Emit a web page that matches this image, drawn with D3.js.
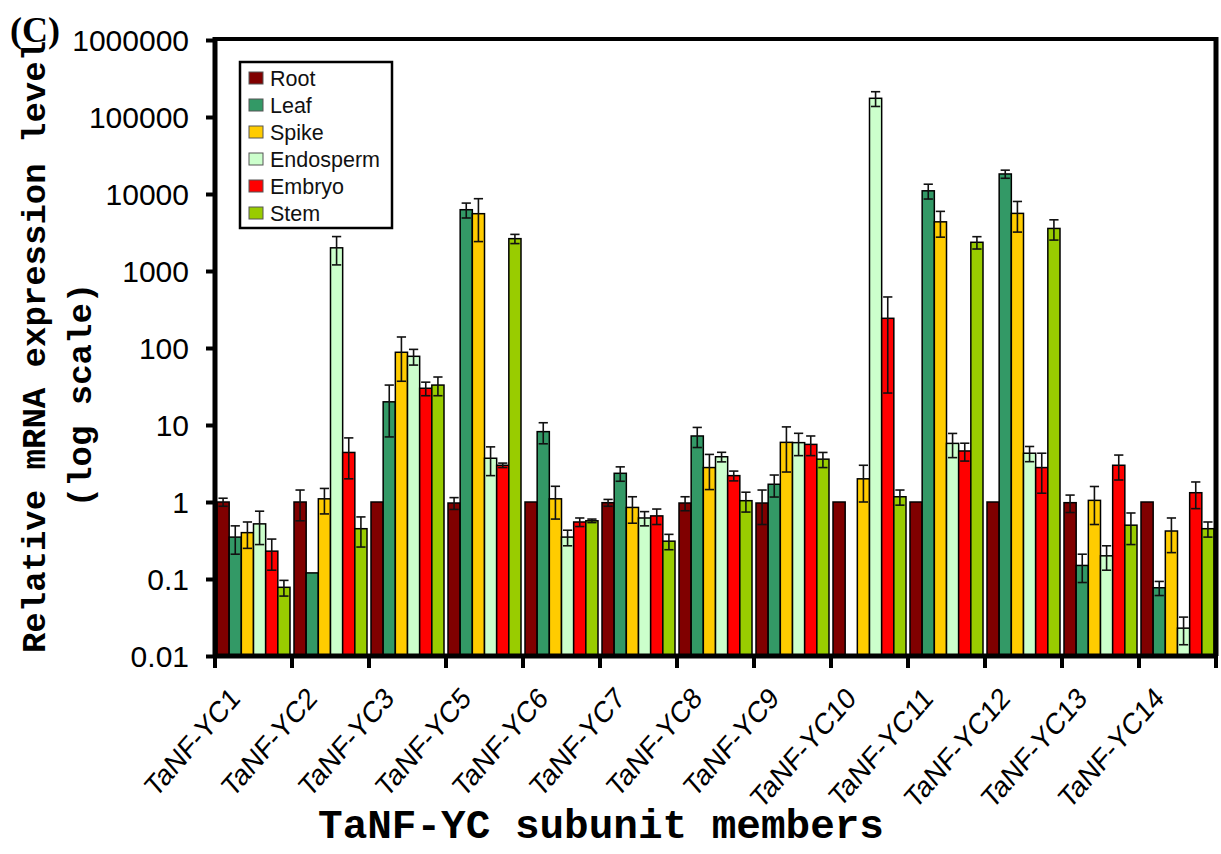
<!DOCTYPE html>
<html>
<head>
<meta charset="utf-8">
<script src="https://cdn.jsdelivr.net/npm/d3@7"></script>
<style>
  html, body { margin: 0; padding: 0; background: #fff; }
  svg { display: block; }
</style>
</head>
<body>
<svg id="chart" width="1221" height="854"></svg>
<script>
// ---------------- DATA ----------------
const categories = ["TaNF-YC1","TaNF-YC2","TaNF-YC3","TaNF-YC5","TaNF-YC6","TaNF-YC7","TaNF-YC8","TaNF-YC9","TaNF-YC10","TaNF-YC11","TaNF-YC12","TaNF-YC13","TaNF-YC14"];
const tissues = ["Root","Leaf","Spike","Endosperm","Embryo","Stem"];
const tissueColors = ["#800000","#339966","#FFCC00","#CCFFCC","#FF0000","#99CC00"];

const root      = [1.0, 1.0, 1.0, 0.97, 1.0, 0.98, 0.97, 0.97, 1.0, 1.0, 1.0, 0.98, 1.0];
const rootErr   = [0.12, 0.43, 0, 0.17, 0, 0.1, 0.2, 0.46, 0, 0, 0, 0.25, 0];
const leaf      = [0.35, 0.12, 20, 6250, 8.2, 2.36, 7.2, 1.7, null, 11000, 18200, 0.15, 0.077];
const leafErr   = [0.14, 0, 13, 1370, 2.5, 0.5, 2.1, 0.54, null, 2400, 2200, 0.06, 0.016];
const spike     = [0.40, 1.1, 88, 5550, 1.1, 0.85, 2.8, 5.95, 2.0, 4350, 5600, 1.05, 0.42];
const spikeErr  = [0.15, 0.4, 51, 3140, 0.5, 0.32, 1.35, 3.5, 1.0, 1600, 2400, 0.54, 0.2];
const endosperm    = [0.52, 2000, 78, 3.7, 0.35, 0.62, 3.87, 5.9, 175000, 5.77, 4.3, 0.2, 0.023];
const endospermErr = [0.24, 800, 18, 1.5, 0.08, 0.13, 0.55, 1.9, 38000, 2.0, 0.96, 0.07, 0.009];
const embryo    = [0.23, 4.4, 30, 3.0, 0.55, 0.66, 2.2, 5.6, 243, 4.6, 2.8, 3.0, 1.32];
const embryoErr = [0.10, 2.4, 6, 0.2, 0.07, 0.15, 0.32, 1.6, 217, 1.2, 1.5, 1.07, 0.5];
const stem      = [0.078, 0.45, 33, 2630, 0.57, 0.31, 1.04, 3.6, 1.17, 2360, 3570, 0.5, 0.45];
const stemErr   = [0.018, 0.19, 9, 360, 0.03, 0.07, 0.3, 0.8, 0.26, 430, 1050, 0.22, 0.1];

const yTickValues = [0.01, 0.1, 1, 10, 100, 1000, 10000, 100000, 1000000];
const yTickLabels = ["0.01","0.1","1","10","100","1000","10000","100000","1000000"];

const seriesValues = [root, leaf, spike, endosperm, embryo, stem];
const seriesErrors = [rootErr, leafErr, spikeErr, endospermErr, embryoErr, stemErr];

// ---------------- LAYOUT ----------------
const pLeft = 215, pRight = 1216, pTop = 40, pBottom = 656;
const svg = d3.select("#chart");

const x0 = d3.scaleBand().domain(categories).range([pLeft, pRight]).padding(0);
const x1 = d3.scaleBand().domain(tissues).range([2, x0.bandwidth() - 2]).padding(0);
const y = d3.scaleLog().domain([0.01, 1000000]).range([pBottom, pTop]).clamp(true);
const color = d3.scaleOrdinal().domain(tissues).range(tissueColors);

const rows = [];
categories.forEach((c, ci) => {
  tissues.forEach((t, ti) => {
    const v = seriesValues[ti][ci];
    if (v != null) rows.push({cat: c, tissue: t, value: v, err: seriesErrors[ti][ci] || 0});
  });
});

// bars
const gBars = svg.append("g");
gBars.selectAll("rect").data(rows).join("rect")
  .attr("x", d => x0(d.cat) + x1(d.tissue))
  .attr("y", d => y(d.value))
  .attr("width", x1.bandwidth())
  .attr("height", d => pBottom - y(d.value))
  .attr("fill", d => color(d.tissue))
  .attr("stroke", "#000")
  .attr("stroke-width", 1.5);

// error bars
const gErr = svg.append("g").attr("stroke", "#111").attr("stroke-width", 1.6).attr("fill", "none");
rows.filter(d => d.err > 0).forEach(d => {
  const cx = x0(d.cat) + x1(d.tissue) + x1.bandwidth() / 2;
  const hi = y(d.value + d.err);
  const lo = y(Math.max(d.value - d.err, 0.01));
  const cw = x1.bandwidth() * 0.38;
  gErr.append("line").attr("x1", cx).attr("x2", cx).attr("y1", hi).attr("y2", lo);
  gErr.append("line").attr("x1", cx - cw).attr("x2", cx + cw).attr("y1", hi).attr("y2", hi);
  gErr.append("line").attr("x1", cx - cw).attr("x2", cx + cw).attr("y1", lo).attr("y2", lo);
});

// frame (top & right)
svg.append("line").attr("x1", pLeft).attr("x2", pRight + 2).attr("y1", pTop - 1).attr("y2", pTop - 1)
  .attr("stroke", "#000").attr("stroke-width", 4);
svg.append("line").attr("x1", pRight).attr("x2", pRight).attr("y1", pTop - 3).attr("y2", pBottom)
  .attr("stroke", "#000").attr("stroke-width", 5);

// y axis
const yAxis = d3.axisLeft(y).tickValues(yTickValues)
  .tickFormat((d, i) => yTickLabels[i]).tickSize(9).tickPadding(17);
const gy = svg.append("g").attr("transform", `translate(${pLeft},0)`).call(yAxis);
gy.select(".domain").attr("stroke", "#000").attr("stroke-width", 5).attr("d", `M0,${pTop - 3}V${pBottom + 2}`);
gy.selectAll(".tick line").attr("stroke", "#000").attr("stroke-width", 4);
gy.selectAll(".tick text").attr("font-family", "'Liberation Sans', Arial, sans-serif")
  .attr("font-size", 30).attr("fill", "#000").attr("dy", "0.36em");

// x axis (ticks at group boundaries)
const boundaries = categories.map(c => x0(c)).concat([pRight]);
const gx = svg.append("g");
gx.append("line").attr("x1", pLeft - 2).attr("x2", pRight + 2).attr("y1", pBottom).attr("y2", pBottom)
  .attr("stroke", "#000").attr("stroke-width", 5);
gx.selectAll("line.tk").data(boundaries).join("line").attr("class", "tk")
  .attr("x1", d => d).attr("x2", d => d).attr("y1", pBottom).attr("y2", pBottom + 12)
  .attr("stroke", "#000").attr("stroke-width", 4);
gx.selectAll("text").data(categories).join("text")
  .attr("transform", c => `translate(${x0(c) + x0.bandwidth() / 2 - 12},${pBottom + 44}) scale(1,1.15) rotate(-45)`)
  .attr("text-anchor", "end")
  .attr("font-family", "'Liberation Sans', Arial, sans-serif")
  .attr("font-size", 26).attr("fill", "#000")
  .text(c => c);

// axis titles
svg.append("text").attr("transform", "translate(45,347) rotate(-90)")
  .attr("text-anchor", "middle")
  .attr("font-family", "'Liberation Mono', 'Courier New', monospace")
  .attr("font-weight", "bold").attr("font-size", 34).attr("fill", "#000")
  .text("Relative mRNA expression level");
svg.append("text").attr("transform", "translate(91,395) rotate(-90)")
  .attr("text-anchor", "middle")
  .attr("font-family", "'Liberation Mono', 'Courier New', monospace")
  .attr("font-weight", "bold").attr("font-size", 34).attr("fill", "#000")
  .text("(log scale)");
svg.append("text").attr("x", 601).attr("y", 838)
  .attr("text-anchor", "middle")
  .attr("font-family", "'Liberation Mono', 'Courier New', monospace")
  .attr("font-weight", "bold").attr("font-size", 41).attr("fill", "#000")
  .text("TaNF-YC subunit members");

// panel label
svg.append("text").attr("x", 10).attr("y", 42)
  .attr("font-family", "'Liberation Serif', 'Times New Roman', serif")
  .attr("font-weight", "bold").attr("font-size", 36).attr("fill", "#000")
  .text("(C)");

// legend
const lg = svg.append("g");
lg.append("rect").attr("x", 240).attr("y", 62).attr("width", 152).attr("height", 166)
  .attr("fill", "#fff").attr("stroke", "#000").attr("stroke-width", 2.5);
const items = lg.selectAll("g.item").data(tissues).join("g").attr("class", "item")
  .attr("transform", (d, i) => `translate(249,${78 + i * 27})`);
items.append("rect").attr("x", 0).attr("y", -6).attr("width", 14).attr("height", 12)
  .attr("fill", d => color(d)).attr("stroke", "#555").attr("stroke-width", 1);
items.append("text").attr("x", 21).attr("y", 0).attr("dy", "0.36em")
  .attr("font-family", "'Liberation Sans', Arial, sans-serif")
  .attr("font-size", 21.5).attr("fill", "#111")
  .text(d => d);
</script>
</body>
</html>
